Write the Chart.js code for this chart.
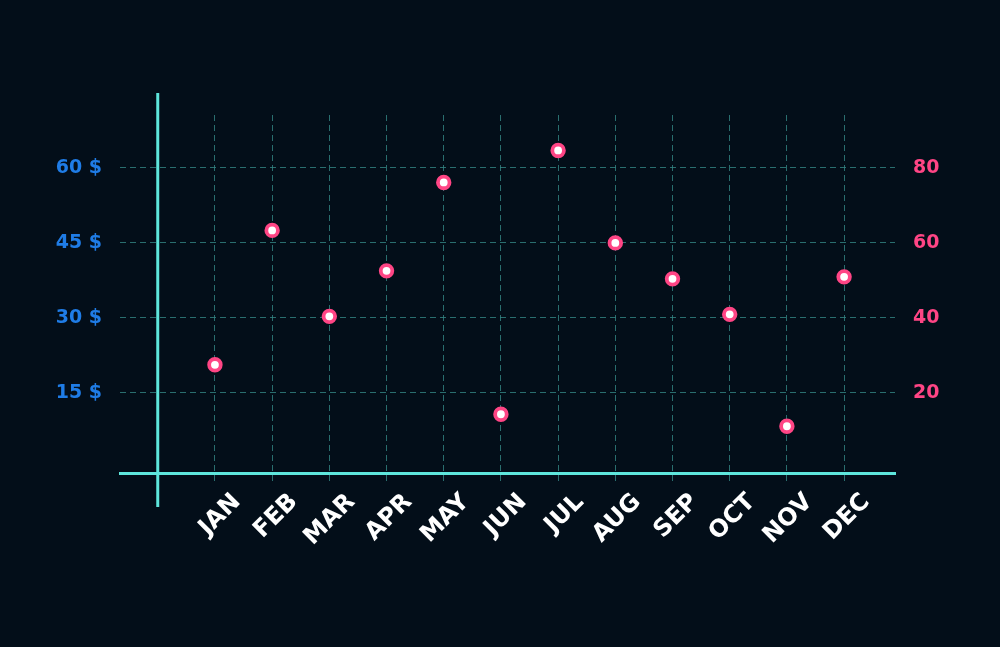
<!DOCTYPE html>
<html>
<head>
<meta charset="utf-8">
<script src="https://cdn.jsdelivr.net/npm/chart.js@4/dist/chart.umd.min.js"></script>
<style>
    html, body { margin: 0; padding: 0; background: #030e19; }
    #wrap { width: 1000px; height: 647px; position: relative; }
</style>
</head>
<body>
<div id="wrap"><canvas id="chart"></canvas></div>
<script>
const months = ['JAN', 'FEB', 'MAR', 'APR', 'MAY', 'JUN', 'JUL', 'AUG', 'SEP', 'OCT', 'NOV', 'DEC'];
const prices = [20.6, 47.5, 30.3, 39.4, 57.1, 10.7, 63.5, 45.0, 37.8, 30.7, 8.3, 38.2];
const dollarTicks = [15, 30, 45, 60];
const rightTicks = [20, 40, 60, 80];

const gridColor = 'rgba(52, 135, 132, 0.8)';
const axisColor = '#5ee6dc';
const pink = '#ff4585';
const blue = '#1f7ce6';

// the vertical axis line sits at x = 0 and sticks out above and below the plot
const axisLine = {
    id: 'axisLine',
    beforeDatasetsDraw(chart) {
        const ctx = chart.ctx;
        const area = chart.chartArea;
        const x = chart.scales.x.getPixelForValue(0);
        ctx.save();
        ctx.strokeStyle = axisColor;
        ctx.lineWidth = 3;
        ctx.beginPath();
        ctx.moveTo(x, area.top - 22);
        ctx.lineTo(x, area.bottom + 34);
        ctx.stroke();
        ctx.restore();
    }
};

const points = months.map((m, i) => ({ x: i + 1, y: prices[i] }));

// eslint-disable-next-line no-undef
new Chart(document.getElementById('chart').getContext('2d'), {
    type: 'scatter',
    data: {
        datasets: [{
            label: 'Price',
            data: points,
            yAxisID: 'y',
            pointRadius: 5.8,
            pointHoverRadius: 5.8,
            pointBorderWidth: 3.8,
            pointBackgroundColor: '#ffffff',
            pointBorderColor: pink
        }]
    },
    options: {
        responsive: true,
        maintainAspectRatio: false,
        animation: false,
        layout: { padding: { top: 115, left: 0, right: 0, bottom: 0 } },
        plugins: {
            legend: { display: false },
            tooltip: { enabled: false }
        },
        scales: {
            x: {
                type: 'linear',
                min: -0.66,
                max: 12.89,
                afterBuildTicks: (scale) => {
                    scale.ticks = months.map((m, i) => ({ value: i + 1 }));
                },
                afterFit: (scale) => { scale.height = 174; },
                grid: {
                    color: gridColor,
                    lineWidth: 1,
                    drawTicks: true,
                    tickLength: 9,
                    tickColor: gridColor,
                    tickBorderDash: [6, 4]
                },
                border: { display: true, color: axisColor, width: 3, dash: [6, 4] },
                ticks: {
                    autoSkip: false,
                    minRotation: 45,
                    maxRotation: 45,
                    labelOffset: 22,
                    padding: 6,
                    color: '#ffffff',
                    font: { family: 'DejaVu Sans', size: 24, weight: 'bold' },
                    callback: (value) => months[value - 1]
                }
            },
            y: {
                position: 'left',
                min: -1.06,
                max: 70.6,
                afterBuildTicks: (scale) => {
                    scale.ticks = dollarTicks.map(v => ({ value: v }));
                },
                afterFit: (scale) => { scale.width = 120; },
                grid: { color: gridColor, lineWidth: 1, drawTicks: false },
                border: { display: false, dash: [6, 4] },
                ticks: {
                    padding: 18,
                    color: blue,
                    font: { family: 'DejaVu Sans', size: 19, weight: 'bold' },
                    callback: (value) => value + ' $'
                }
            },
            y2: {
                position: 'right',
                min: -1.41,
                max: 94.13,
                afterBuildTicks: (scale) => {
                    scale.ticks = rightTicks.map(v => ({ value: v }));
                },
                afterFit: (scale) => { scale.width = 105; },
                grid: { display: false, drawTicks: false },
                border: { display: false },
                ticks: {
                    padding: 18,
                    color: pink,
                    font: { family: 'DejaVu Sans', size: 19, weight: 'bold' }
                }
            }
        }
    },
    plugins: [axisLine]
});
</script>
</body>
</html>
